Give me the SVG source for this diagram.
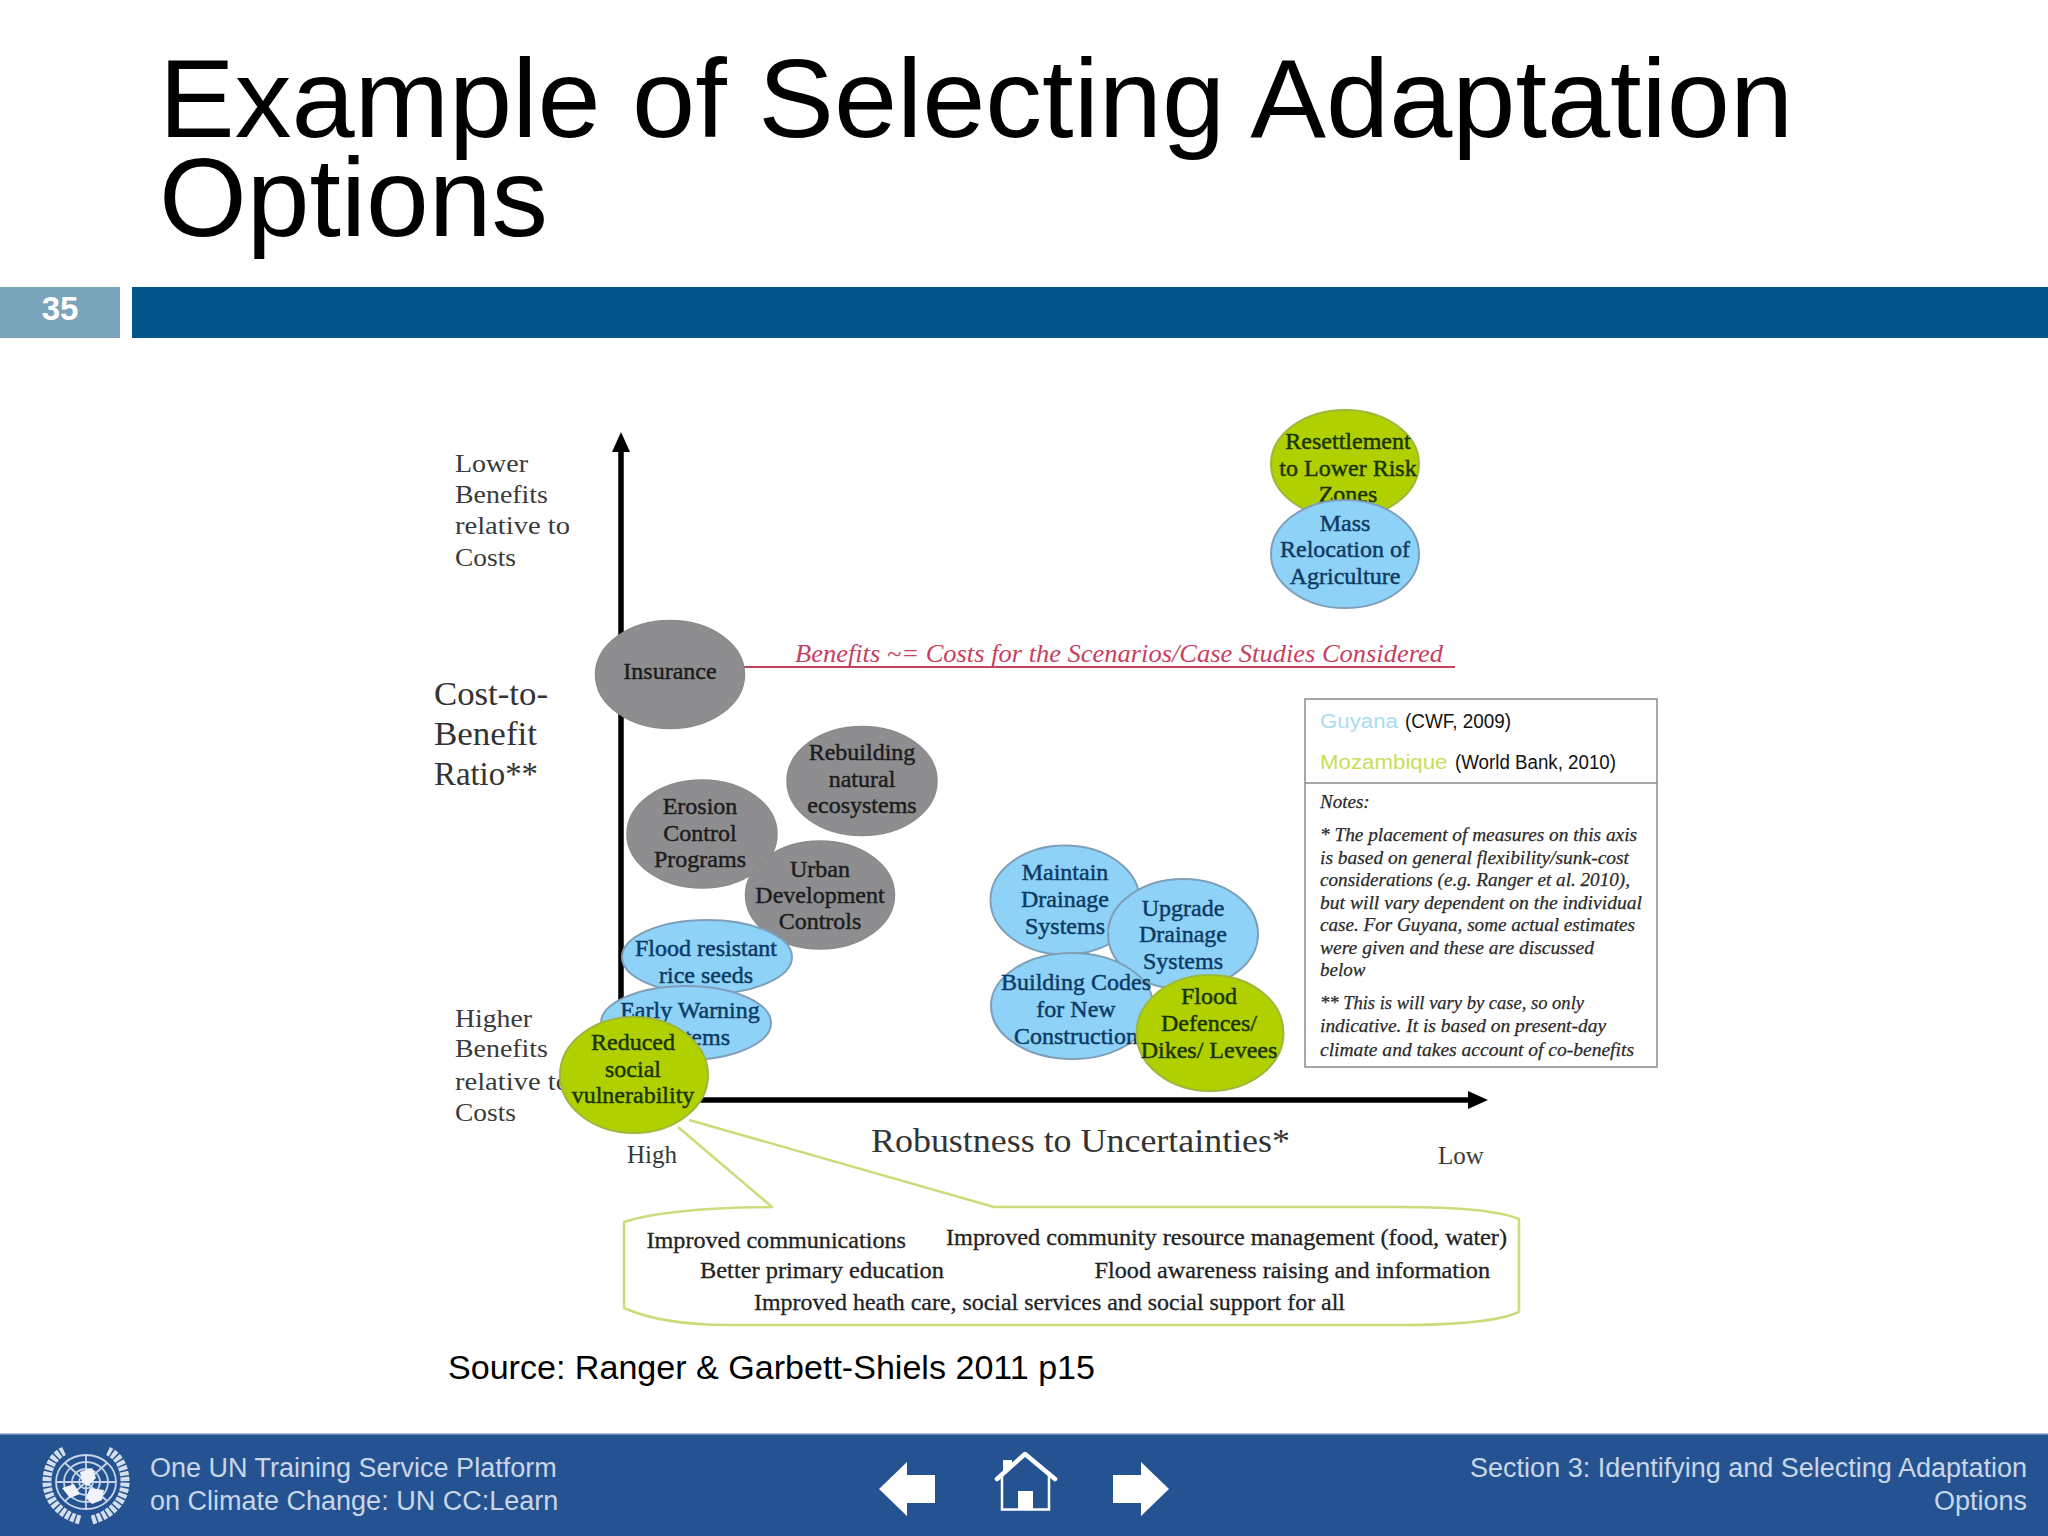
<svg xmlns="http://www.w3.org/2000/svg" width="2048" height="1536" viewBox="0 0 2048 1536">
<style>
.s{font-family:"Liberation Sans",Arial,sans-serif}
.c{font-family:"Liberation Serif","Times New Roman",serif}
.n{font-size:24px;text-anchor:middle;font-family:"Liberation Serif","Times New Roman",serif;stroke-width:.45}
.gy{fill:#8e8e90;stroke:#8a8a8c;stroke-width:1.5}
.bl{fill:#8ed2f8;stroke:#7f9fb8;stroke-width:2}
.gr{fill:#b0d000;stroke:#9cb83c;stroke-width:2}
.gyt{fill:#1c1c1c;stroke:#1c1c1c}.blt{fill:#0c3a63;stroke:#0c3a63}.grt{fill:#1b3300;stroke:#1b3300}
.lab{font-size:25px;fill:#3a3a3a;font-family:"Liberation Serif","Times New Roman",serif}
.cb{font-size:24px;fill:#222;stroke:#222;stroke-width:.3;font-family:"Liberation Serif","Times New Roman",serif}
.nt{font-size:19px;font-style:italic;fill:#2a2a2a;stroke:#2a2a2a;stroke-width:.25;font-family:"Liberation Serif","Times New Roman",serif}
.lg{font-size:20px;fill:#111;font-family:"Liberation Sans",Arial,sans-serif}
.ft{font-size:27px;fill:#c9d6e8;font-family:"Liberation Sans",Arial,sans-serif}
</style>
<defs>
<marker id="ah" viewBox="0 0 20 18" refX="0" refY="9" markerWidth="20" markerHeight="18" markerUnits="userSpaceOnUse" orient="auto"><path d="M0 0L20 9L0 18Z" fill="#000"/></marker>
</defs>
<rect width="2048" height="1536" fill="#fff"/>
<g id="header">
<text class="s" x="159" y="137" font-size="112" fill="#000" textLength="1634" lengthAdjust="spacingAndGlyphs">Example of Selecting Adaptation</text>
<text class="s" x="159" y="236" font-size="112" fill="#000" textLength="389" lengthAdjust="spacingAndGlyphs">Options</text>
<rect x="0" y="287" width="120" height="51" fill="#7ba5bb"/>
<rect x="132" y="287" width="1916" height="51" fill="#04558c"/>
<text class="s" x="60" y="320" font-size="33" font-weight="bold" fill="#fff" text-anchor="middle">35</text>
</g>
<g id="axis-labels">
<text class="lab" x="455" y="472" textLength="73" lengthAdjust="spacingAndGlyphs">Lower</text>
<text class="lab" x="455" y="503" textLength="93" lengthAdjust="spacingAndGlyphs">Benefits</text>
<text class="lab" x="455" y="534" textLength="115" lengthAdjust="spacingAndGlyphs">relative to</text>
<text class="lab" x="455" y="566" textLength="61" lengthAdjust="spacingAndGlyphs">Costs</text>
<text class="lab" x="455" y="1027" textLength="77" lengthAdjust="spacingAndGlyphs">Higher</text>
<text class="lab" x="455" y="1057" textLength="93" lengthAdjust="spacingAndGlyphs">Benefits</text>
<text class="lab" x="455" y="1090" textLength="115" lengthAdjust="spacingAndGlyphs">relative to</text>
<text class="lab" x="455" y="1121" textLength="61" lengthAdjust="spacingAndGlyphs">Costs</text>
<text class="c" x="434" y="705" font-size="33" fill="#333" textLength="114" lengthAdjust="spacingAndGlyphs">Cost-to-</text>
<text class="c" x="434" y="745" font-size="33" fill="#333" textLength="103" lengthAdjust="spacingAndGlyphs">Benefit</text>
<text class="c" x="434" y="785" font-size="33" fill="#333" textLength="104" lengthAdjust="spacingAndGlyphs">Ratio**</text>
<text class="lab" x="652" y="1163" text-anchor="middle">High</text>
<text class="lab" x="1461" y="1164" text-anchor="middle">Low</text>
<text class="c" x="871" y="1152" font-size="33" fill="#333" textLength="419" lengthAdjust="spacingAndGlyphs">Robustness to Uncertainties*</text>
</g>
<g id="connectors" fill="none">
<path d="M621 1100V452" stroke="#000" stroke-width="5.5" marker-end="url(#ah)"/>
<path d="M619 1100H1468" stroke="#000" stroke-width="5.5" marker-end="url(#ah)"/>
<path d="M744 667H1455" stroke="#c9405f" stroke-width="2"/>
</g>
<text id="red-label" class="c" x="795" y="662" font-size="25" font-style="italic" fill="#c8405f" textLength="648" lengthAdjust="spacingAndGlyphs">Benefits ~= Costs for the Scenarios/Case Studies Considered</text>
<g id="callout">
<path d="M678 1127L772 1207Q668 1208 624 1222V1308Q662 1325 730 1325H1400Q1490 1325 1519 1312V1219Q1490 1207 1400 1207H994L689 1120" fill="#fff" stroke="#cbdc7a" stroke-width="2.5" stroke-linejoin="round"/>
<text class="cb" x="646.5" y="1248" textLength="259.5" lengthAdjust="spacingAndGlyphs">Improved communications</text>
<text class="cb" x="946" y="1245" textLength="561" lengthAdjust="spacingAndGlyphs">Improved community resource management (food, water)</text>
<text class="cb" x="700" y="1278" textLength="244" lengthAdjust="spacingAndGlyphs">Better primary education</text>
<text class="cb" x="1094.5" y="1278" textLength="395.5" lengthAdjust="spacingAndGlyphs">Flood awareness raising and information</text>
<text class="cb" x="754" y="1310" textLength="591" lengthAdjust="spacingAndGlyphs">Improved heath care, social services and social support for all</text>
</g>
<g id="node-insurance"><ellipse class="gy" cx="670" cy="674.5" rx="74.5" ry="54"/><text class="n gyt" x="670" y="679">Insurance</text></g>
<g id="node-rebuilding"><ellipse class="gy" cx="862" cy="781" rx="75" ry="54.5"/><text class="n gyt"><tspan x="862" y="760">Rebuilding</tspan><tspan x="862" y="787">natural</tspan><tspan x="862" y="813">ecosystems</tspan></text></g>
<g id="node-erosion"><ellipse class="gy" cx="702" cy="834" rx="75" ry="54"/><text class="n gyt"><tspan x="700" y="814">Erosion</tspan><tspan x="700" y="841">Control</tspan><tspan x="700" y="867">Programs</tspan></text></g>
<g id="node-urban"><ellipse class="gy" cx="820" cy="895" rx="74.5" ry="54"/><text class="n gyt"><tspan x="820" y="877">Urban</tspan><tspan x="820" y="903">Development</tspan><tspan x="820" y="929">Controls</tspan></text></g>
<g id="node-rice"><ellipse class="bl" cx="707" cy="957" rx="85" ry="37"/><text class="n blt"><tspan x="706" y="956">Flood resistant</tspan><tspan x="706" y="983">rice seeds</tspan></text></g>
<g id="node-early"><ellipse class="bl" cx="686" cy="1023" rx="85" ry="37"/><text class="n blt"><tspan x="690" y="1018">Early Warning</tspan><tspan x="690" y="1045">Systems</tspan></text></g>
<g id="node-reduced"><ellipse class="gr" cx="634" cy="1075" rx="74" ry="58"/><text class="n grt"><tspan x="633" y="1050">Reduced</tspan><tspan x="633" y="1077">social</tspan><tspan x="633" y="1103">vulnerability</tspan></text></g>
<g id="node-resettlement"><ellipse class="gr" cx="1345" cy="464" rx="74" ry="54"/><text class="n grt"><tspan x="1348" y="449">Resettlement</tspan><tspan x="1348" y="476">to Lower Risk</tspan><tspan x="1348" y="502">Zones</tspan></text></g>
<g id="node-mass"><ellipse class="bl" cx="1345" cy="554" rx="74" ry="54"/><text class="n blt"><tspan x="1345" y="531">Mass</tspan><tspan x="1345" y="557">Relocation of</tspan><tspan x="1345" y="584">Agriculture</tspan></text></g>
<g id="node-maintain"><ellipse class="bl" cx="1065" cy="900" rx="74.5" ry="54.5"/><text class="n blt"><tspan x="1065" y="880">Maintain</tspan><tspan x="1065" y="907">Drainage</tspan><tspan x="1065" y="934">Systems</tspan></text></g>
<g id="node-upgrade"><ellipse class="bl" cx="1183" cy="934" rx="75" ry="55"/><text class="n blt"><tspan x="1183" y="916">Upgrade</tspan><tspan x="1183" y="942">Drainage</tspan><tspan x="1183" y="969">Systems</tspan></text></g>
<g id="node-building"><ellipse class="bl" cx="1072" cy="1006" rx="81" ry="53"/><text class="n blt"><tspan x="1076" y="990">Building Codes</tspan><tspan x="1076" y="1017">for New</tspan><tspan x="1076" y="1044">Construction</tspan></text></g>
<g id="node-flood"><ellipse class="gr" cx="1210" cy="1033" rx="73.500" ry="58"/><text class="n grt"><tspan x="1209" y="1004">Flood</tspan><tspan x="1209" y="1031">Defences/</tspan><tspan x="1209" y="1058">Dikes/ Levees</tspan></text></g>
<g id="legend">
<rect x="1305" y="699" width="352" height="368" fill="#fff" stroke="#8a8a8a" stroke-width="1.5"/>
<path d="M1305 783H1657" stroke="#8a8a8a" stroke-width="1.5"/>
<text class="lg" x="1320" y="728" style="fill:#a9dcf2" textLength="78" lengthAdjust="spacingAndGlyphs">Guyana</text>
<text class="lg" x="1405" y="728" textLength="106" lengthAdjust="spacingAndGlyphs">(CWF, 2009)</text>
<text class="lg" x="1320" y="769" style="fill:#c9de55" textLength="127.5" lengthAdjust="spacingAndGlyphs">Mozambique</text>
<text class="lg" x="1455" y="769" textLength="161" lengthAdjust="spacingAndGlyphs">(World Bank, 2010)</text>
<text class="nt" x="1320" y="808">Notes:</text>
<text class="nt" x="1320" y="841" textLength="317" lengthAdjust="spacingAndGlyphs">* The placement of measures on this axis</text>
<text class="nt" x="1320" y="864" textLength="309" lengthAdjust="spacingAndGlyphs">is based on general flexibility/sunk-cost</text>
<text class="nt" x="1320" y="886" textLength="310" lengthAdjust="spacingAndGlyphs">considerations (e.g. Ranger et al. 2010),</text>
<text class="nt" x="1320" y="908.500" textLength="322" lengthAdjust="spacingAndGlyphs">but will vary dependent on the individual</text>
<text class="nt" x="1320" y="931" textLength="315" lengthAdjust="spacingAndGlyphs">case. For Guyana, some actual estimates</text>
<text class="nt" x="1320" y="954" textLength="274" lengthAdjust="spacingAndGlyphs">were given and these are discussed</text>
<text class="nt" x="1320" y="976">below</text>
<text class="nt" x="1320" y="1009" textLength="264" lengthAdjust="spacingAndGlyphs">** This is will vary by case, so only</text>
<text class="nt" x="1320" y="1032" textLength="286" lengthAdjust="spacingAndGlyphs">indicative. It is based on present-day</text>
<text class="nt" x="1320" y="1056" textLength="314" lengthAdjust="spacingAndGlyphs">climate and takes account of co-benefits</text>
</g>
<text id="source" class="s" x="448" y="1379" font-size="34" fill="#000" textLength="647" lengthAdjust="spacingAndGlyphs">Source: Ranger &amp; Garbett-Shiels 2011 p15</text>
<g id="footer">
<rect x="0" y="1433" width="2048" height="103" fill="#255391"/>
<rect x="0" y="1433" width="2048" height="1.500" fill="#a9c1dc"/>
<g id="un-logo" fill="none" stroke="#c6d4e8" stroke-width="1.800">
<ellipse cx="86" cy="1482" rx="30" ry="27"/>
<ellipse cx="86" cy="1482" rx="22" ry="20"/>
<ellipse cx="86" cy="1482" rx="14" ry="13"/>
<ellipse cx="86" cy="1482" rx="7" ry="6.500"/>
<path d="M56 1482H116M86 1455V1509M65 1463L107 1501M107 1463L65 1501"/>
<path d="M80 1520C58 1514 47 1498 47 1482C47 1468 53 1456 64 1451M92 1520C114 1514 125 1498 125 1482C125 1468 119 1456 108 1451" stroke-width="9" stroke-dasharray="4 1.500" stroke="#d4deed"/>
<path d="M62 1488L74 1484L80 1494L70 1498ZM80 1472L92 1468L96 1478L88 1486L82 1482ZM90 1488L104 1490L102 1500L92 1504L86 1498Z" fill="#f0f4fa" stroke="none"/>
</g>
<text class="ft"><tspan x="150" y="1477">One UN Training Service Platform</tspan><tspan x="150" y="1510">on Climate Change: UN CC:Learn</tspan></text>
<text class="ft" text-anchor="end"><tspan x="2027" y="1477">Section 3: Identifying and Selecting Adaptation</tspan><tspan x="2027" y="1510">Options</tspan></text>
<path id="nav-prev" d="M879 1489L907 1462V1475H935V1503H907V1516Z" fill="#fff"/>
<g id="nav-home">
<path d="M1003 1472V1460H1012V1465Z" fill="#fff"/>
<path d="M997 1479L1025 1454L1055 1479" fill="none" stroke="#fff" stroke-width="4.500" stroke-linecap="round" stroke-linejoin="round"/>
<path d="M1002 1475V1509.500H1049V1475" fill="none" stroke="#fff" stroke-width="2.500"/>
<rect x="1018" y="1491" width="15" height="19" fill="#fff"/>
</g>
<path id="nav-next" d="M1169 1489L1141 1462V1475H1113V1503H1141V1516Z" fill="#fff"/>
</g>
</svg>
